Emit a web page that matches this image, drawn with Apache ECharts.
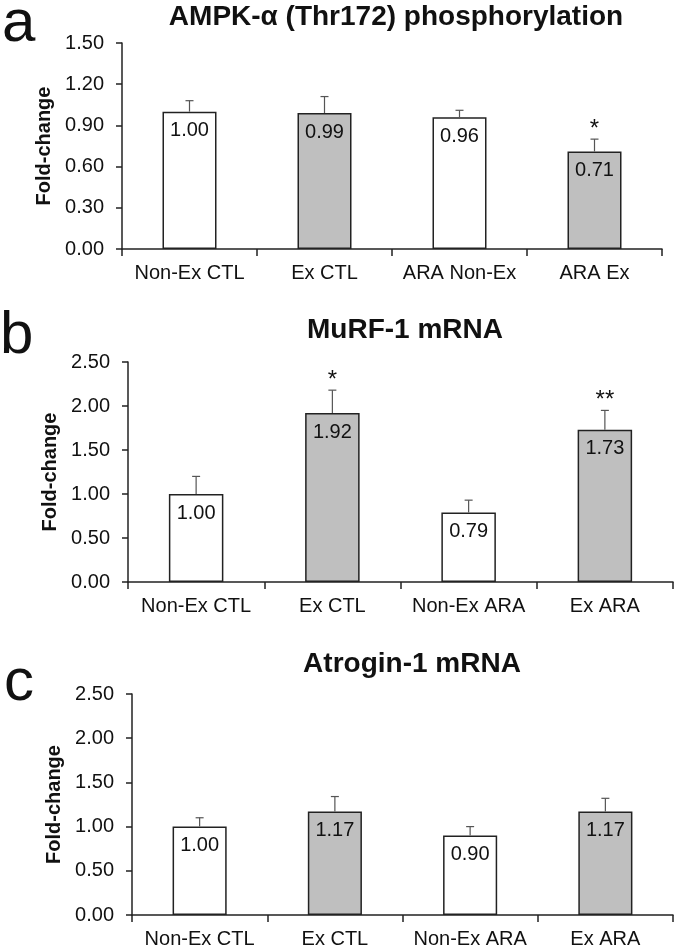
<!DOCTYPE html>
<html>
<head>
<meta charset="utf-8">
<script src="https://cdn.jsdelivr.net/npm/echarts@6/dist/echarts.min.js"></script>
<style>html,body{margin:0;padding:0;background:#fff}#c{width:678px;height:949px}</style>
</head>
<body>
<div id="c"></div>
<script>
// ---- data ----
const catsA = ['Non-Ex CTL', 'Ex CTL', 'ARA Non-Ex', 'ARA Ex'];
const catsBC = ['Non-Ex CTL', 'Ex CTL', 'Non-Ex ARA', 'Ex ARA'];
const valsA = [1.00, 0.99, 0.96, 0.71];
const errTopA = [1.08, 1.11, 1.01, 0.80];
const sigA = ['', '', '', '*'];
const valsB = [1.00, 1.92, 0.79, 1.73];
const errTopB = [1.20, 2.18, 0.93, 1.95];
const sigB = ['', '*', '', '**'];
const valsC = [1.00, 1.17, 0.90, 1.17];
const errTopC = [1.10, 1.34, 1.00, 1.32];
const sigC = ['', '', '', ''];
const titles = ['AMPK-\u03b1 (Thr172) phosphorylation', 'MuRF-1 mRNA', 'Atrogin-1 mRNA'];
const letters = ['a', 'b', 'c'];
const yMax = [1.5, 2.5, 2.5];
const yStep = [0.3, 0.5, 0.5];
const fillColors = ['#ffffff', '#bfbfbf', '#ffffff', '#bfbfbf'];

const FONT = '"Liberation Sans", Arial, sans-serif';
const panels = [
  {cats: catsA, vals: valsA, err: errTopA, sig: sigA},
  {cats: catsBC, vals: valsB, err: errTopB, sig: sigB},
  {cats: catsBC, vals: valsC, err: errTopC, sig: sigC}
];
const grids = [
  {left: 122, right: 16, top: 43, height: 206},
  {left: 128, right: 5, top: 362, height: 220},
  {left: 132, right: 5, top: 694, height: 221}
];
const nameGaps = [64, 60, 63];
const titlePos = [{x: 391, y: 14}, {x: 400, y: 327}, {x: 407, y: 661}];
const letterPos = [{x: 2, y: 30}, {x: 0, y: 342}, {x: 4, y: 689}];

const option = {
  animation: false,
  backgroundColor: '#fff',
  title: titles.map((t, i) => ({
    text: t, left: titlePos[i].x, top: titlePos[i].y - 16, textAlign: 'center',
    textStyle: {fontFamily: FONT, fontWeight: 'bold', fontSize: 28, color: '#111'}
  })),
  graphic: letters.map((l, i) => ({
    type: 'text', left: letterPos[i].x, top: letterPos[i].y - 36,
    style: {text: l, font: '60px ' + FONT, fill: '#111'}
  })),
  grid: grids.map(g => Object.assign({containLabel: false}, g)),
  xAxis: panels.map((p, i) => ({
    type: 'category', gridIndex: i, data: p.cats,
    axisLine: {lineStyle: {color: '#222', width: 1.5}},
    axisTick: {show: true, length: 7, lineStyle: {color: '#222', width: 1.5}},
    axisLabel: {interval: 0, fontFamily: FONT, fontSize: 20, color: '#111', margin: 14}
  })),
  yAxis: panels.map((p, i) => ({
    type: 'value', gridIndex: i, min: 0, max: yMax[i], interval: yStep[i],
    name: 'Fold-change', nameLocation: 'middle', nameGap: nameGaps[i], nameRotate: 90,
    nameTextStyle: {fontFamily: FONT, fontWeight: 'bold', fontSize: 20, color: '#111'},
    splitLine: {show: false},
    axisLine: {show: true, lineStyle: {color: '#222', width: 1.5}},
    axisTick: {show: true, length: 6, lineStyle: {color: '#222', width: 1.5}},
    axisLabel: {fontFamily: FONT, fontSize: 20, color: '#111', margin: 18,
      formatter: v => v.toFixed(2)}
  })),
  series: []
};

panels.forEach((p, i) => {
  option.series.push({
    type: 'bar', xAxisIndex: i, yAxisIndex: i, barWidth: '40%',
    data: p.vals.map((v, k) => ({value: v, itemStyle: {color: fillColors[k]}})),
    itemStyle: {borderColor: '#222', borderWidth: 1.5},
    label: {show: true, position: 'insideTop', distance: 9, fontFamily: FONT, fontSize: 20, color: '#111',
      formatter: d => d.value.toFixed(2)},
    z: 2
  });
  option.series.push({
    type: 'custom', xAxisIndex: i, yAxisIndex: i, z: 3,
    data: p.vals.map((v, k) => [k, v, p.err[k]]),
    renderItem: (params, api) => {
      const a = api.coord([api.value(0), api.value(1)]);
      const b = api.coord([api.value(0), api.value(2)]);
      const st = {stroke: '#555', lineWidth: 1.2};
      return {type: 'group', children: [
        {type: 'line', shape: {x1: a[0], y1: a[1], x2: b[0], y2: b[1]}, style: st},
        {type: 'line', shape: {x1: b[0] - 4, y1: b[1], x2: b[0] + 4, y2: b[1]}, style: st}
      ]};
    }
  });
  option.series.push({
    type: 'custom', xAxisIndex: i, yAxisIndex: i, z: 4,
    data: p.err.map((e, k) => [k, e, p.sig[k]]),
    renderItem: (params, api) => {
      const s = p.sig[params.dataIndex];
      if (!s) return null;
      const b = api.coord([api.value(0), api.value(1)]);
      return {type: 'text', x: b[0], y: b[1] + 2,
        style: {text: s, font: '24px ' + FONT, fill: '#111', textAlign: 'center', textVerticalAlign: 'bottom'}};
    }
  });
});

const chart = echarts.init(document.getElementById('c'), null, {renderer: 'canvas'});
chart.setOption(option);
</script>
</body>
</html>
